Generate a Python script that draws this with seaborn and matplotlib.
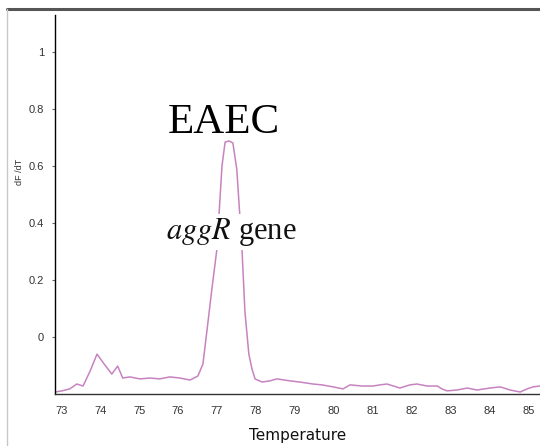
import numpy as np
import pandas as pd
import seaborn as sns
import matplotlib.pyplot as plt
from matplotlib.lines import Line2D

# melt curve
temperature = [72.84, 73.02, 73.22, 73.40, 73.56, 73.74, 73.92, 74.12, 74.30, 74.45,
               74.58, 74.76, 75.02, 75.28, 75.53, 75.79, 76.05, 76.31, 76.51, 76.64,
               76.74, 76.87, 77.00, 77.13, 77.21, 77.31, 77.41, 77.51, 77.64, 77.72,
               77.82, 77.90, 77.98, 78.16, 78.36, 78.54, 78.88, 79.13, 79.47, 79.70,
               79.98, 80.24, 80.42, 80.73, 81.01, 81.19, 81.37, 81.70, 81.96, 82.14,
               82.40, 82.66, 82.78, 82.91, 83.17, 83.43, 83.68, 84.02, 84.28, 84.53,
               84.79, 84.97, 85.12, 85.30]
dfdt = [-0.193, -0.189, -0.182, -0.165, -0.172, -0.120, -0.060, -0.098, -0.130, -0.102,
        -0.144, -0.140, -0.147, -0.144, -0.147, -0.140, -0.144, -0.151, -0.137, -0.095,
        0.018, 0.168, 0.309, 0.600, 0.684, 0.688, 0.681, 0.589, 0.319, 0.088,
        -0.060, -0.112, -0.147, -0.158, -0.154, -0.147, -0.154, -0.158, -0.165, -0.168,
        -0.175, -0.182, -0.168, -0.172, -0.172, -0.168, -0.165, -0.179, -0.168, -0.165,
        -0.172, -0.172, -0.182, -0.189, -0.186, -0.179, -0.186, -0.179, -0.175, -0.186,
        -0.193, -0.182, -0.175, -0.172]
x_ticks = list(range(73, 86))
y_ticks = [0, 0.2, 0.4, 0.6, 0.8, 1]
y_tick_labels = ['0', '0.2', '0.4', '0.6', '0.8', '1']

df = pd.DataFrame({'Temperature': temperature, 'dFdT': dfdt})

sns.set_style("white")
plt.rcParams['mathtext.fontset'] = 'stix'

fig = plt.figure(figsize=(5.4, 4.46), dpi=100)
ax = fig.add_axes([55 / 540, 52 / 446, 1 - 55 / 540, 1 - 52 / 446 - 15 / 446])

sns.lineplot(data=df, x='Temperature', y='dFdT', ax=ax, color='#c783c0', linewidth=1.1)

ax.set_xlim(72.84, 85.30)
ax.set_ylim(-0.2, 1.13)
ax.set_xticks(x_ticks)
ax.set_yticks(y_ticks)
ax.set_yticklabels(y_tick_labels)
ax.tick_params(axis='x', length=0, pad=9, labelsize=8, labelcolor='#333333')
ax.tick_params(axis='y', length=2, width=0.8, direction='out', color='#666666',
               left=True, pad=6, labelsize=8, labelcolor='#333333')
for tl in ax.get_xticklabels() + ax.get_yticklabels():
    tl.set_family('Liberation Sans')

for side in ['top', 'right']:
    ax.spines[side].set_visible(False)
ax.spines['left'].set_color('black')
ax.spines['bottom'].set_color('#333333')
ax.spines['left'].set_linewidth(1.0)
ax.spines['bottom'].set_linewidth(1.0)

ax.set_xlabel('Temperature', fontsize=11, family='DejaVu Sans', color='#111111',
              labelpad=8)
ax.set_ylabel('')
fig.text(20 / 540, 1 - 172 / 446, 'dF /dT', rotation=90, fontsize=6.5,
         family='Liberation Sans', ha='center', va='center', color='#333333')

ax.text(77.18, 0.716, 'EAEC', fontsize=31, family='Liberation Serif',
        ha='center', va='baseline', color='black', zorder=5)
ax.text(77.36, 0.344, r'$\it{aggR}$ gene', fontsize=22, family='Liberation Serif',
        ha='center', va='baseline', color='#111111', zorder=5,
        bbox=dict(facecolor='white', edgecolor='none', pad=1.5))

# screenshot frame lines
fig.add_artist(Line2D([7 / 540, 1], [1 - 9 / 446] * 2, color='#555555', linewidth=2.2,
                      transform=fig.transFigure))
fig.add_artist(Line2D([7 / 540] * 2, [0, 1 - 9 / 446], color='#c8c8c8', linewidth=1.0,
                      transform=fig.transFigure))

fig.savefig('out.png', dpi=100)
